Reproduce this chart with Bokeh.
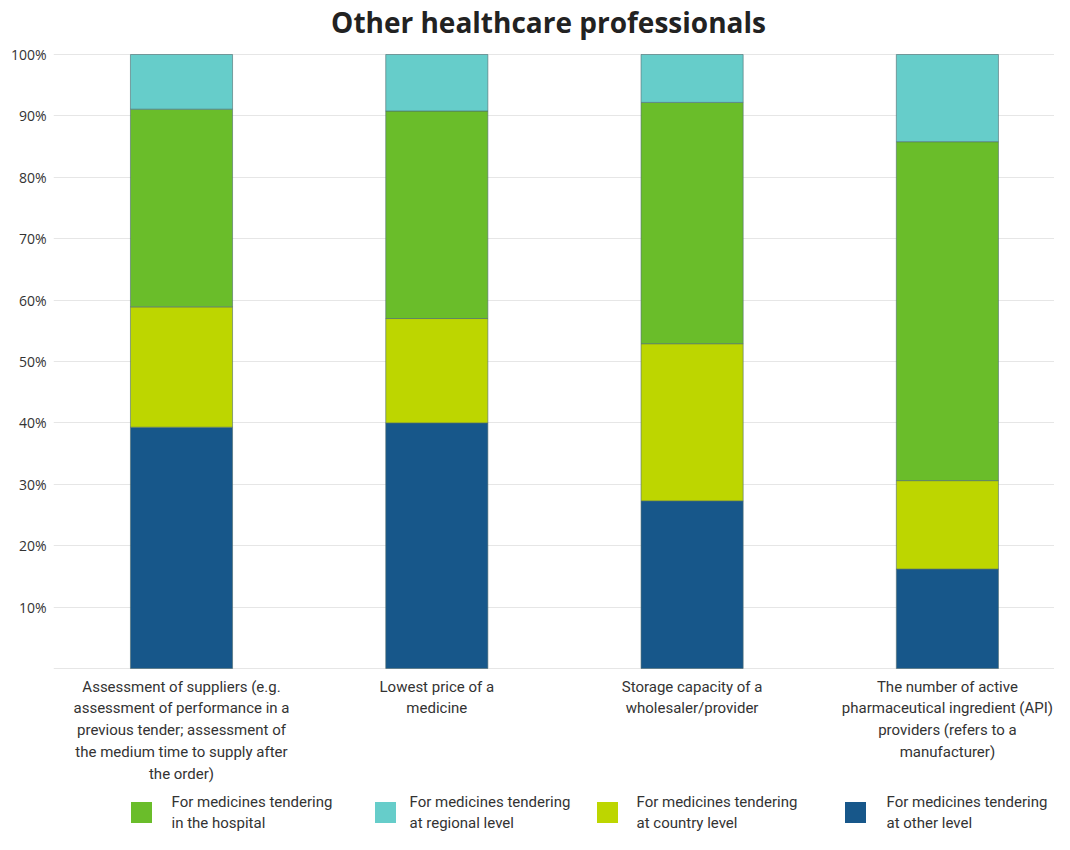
from bokeh.plotting import figure
from bokeh.models import ColumnDataSource, FixedTicker
from bokeh.core.properties import value
from bokeh.embed import file_html
from bokeh.resources import INLINE

# ---------------- data ----------------
title = "Other healthcare professionals"
categories = [
    "Assessment of suppliers (e.g.\nassessment of performance in a\nprevious tender; assessment of\nthe medium time to supply after\nthe order)",
    "Lowest price of a\nmedicine",
    "Storage capacity of a\nwholesaler/provider",
    "The number of active\npharmaceutical ingredient (API)\nproviders (refers to a\nmanufacturer)",
]
other_level = [39.3, 40.0, 27.3, 16.2]
country_level = [19.6, 17.0, 25.6, 14.4]
hospital = [32.2, 33.8, 39.3, 55.2]
regional_level = [8.9, 9.2, 7.8, 14.2]
series_keys = ["other", "country", "hospital", "regional"]
series_colors = ["#17578A", "#BDD600", "#6ABD2A", "#66CDCA"]
legend_labels = [
    "For medicines tendering\nin the hospital",
    "For medicines tendering\nat regional level",
    "For medicines tendering\nat country level",
    "For medicines tendering\nat other level",
]
legend_colors = ["#6ABD2A", "#66CDCA", "#BDD600", "#17578A"]
y_ticks = [10, 20, 30, 40, 50, 60, 70, 80, 90, 100]

# ---------------- layout helpers (pixel -> data) ----------------
W, H = 1054, 834
LEFT = 53
FIRST_CENTER = 181
PX_X = 255.3            # pixels per category
X0 = -(FIRST_CENTER - LEFT) / PX_X
X1 = X0 + (W - LEFT) / PX_X
PX_Y = 6.14             # pixels per percent
TOP100 = 54
Y1 = 100 + TOP100 / PX_Y
Y0 = Y1 - H / PX_Y


def fx(px):
    return X0 + (px - LEFT) / PX_X


def fy(py):
    return Y1 - py / PX_Y


LABEL_FONT = value("Roboto")

p = figure(width=W, height=H, x_range=(X0, X1), y_range=(Y0, Y1),
           output_backend="svg", toolbar_location=None, x_axis_type=None,
           min_border_left=LEFT, min_border_right=0, min_border_top=0,
           min_border_bottom=0)
p.outline_line_color = None
p.background_fill_color = "white"
p.xgrid.visible = False
p.ygrid.ticker = FixedTicker(ticks=[0] + y_ticks)
p.ygrid.grid_line_color = "#e6e6e6"
p.ygrid.grid_line_width = 1

p.yaxis.ticker = FixedTicker(ticks=y_ticks)
p.yaxis.major_label_overrides = {t: f"{t}%" for t in y_ticks}
p.yaxis.axis_line_color = None
p.yaxis.major_tick_line_color = None
p.yaxis.minor_tick_line_color = None
p.yaxis.major_tick_out = 0
p.yaxis.major_tick_in = 0
p.yaxis.minor_tick_out = 0
p.yaxis.major_label_standoff = 7
p.yaxis.major_label_text_font = "Open Sans"
p.yaxis.major_label_text_font_size = "14px"
p.yaxis.major_label_text_color = "#333333"

pos = list(range(len(categories)))
src = ColumnDataSource(dict(x=pos, other=other_level, country=country_level,
                            hospital=hospital, regional=regional_level))
p.vbar_stack(series_keys, x="x", width=0.4, source=src,
             fill_color=series_colors, line_color="#4f6a70",
             line_alpha=0.6, line_width=1)

# title
p.text(x=[fx(548)], y=[fy(21)], text=[title], text_align="center",
       text_baseline="middle", text_font=value("Open Sans"),
       text_font_style="bold", text_font_size="28px", text_color="#222222")

# category labels
p.text(x=pos, y=[fy(677)] * len(pos), text=categories, text_align="center",
       text_baseline="top", text_font=LABEL_FONT, text_font_size="15px",
       text_line_height=1.22, text_color="#333333")

# legend
sq_x = [141, 385, 607, 855]
tx_x = [171, 409, 636, 886]
p.rect(x=[fx(v) for v in sq_x], y=[fy(812)] * 4, width=21, height=21,
       width_units="screen", height_units="screen",
       fill_color=legend_colors, line_color=None)
p.text(x=[fx(v) for v in tx_x], y=[fy(792)] * 4, text=legend_labels,
       text_align="left", text_baseline="top", text_font=LABEL_FONT,
       text_font_size="15px", text_line_height=1.22, text_color="#333333")

open("out.html", "w").write(file_html(p, INLINE))
